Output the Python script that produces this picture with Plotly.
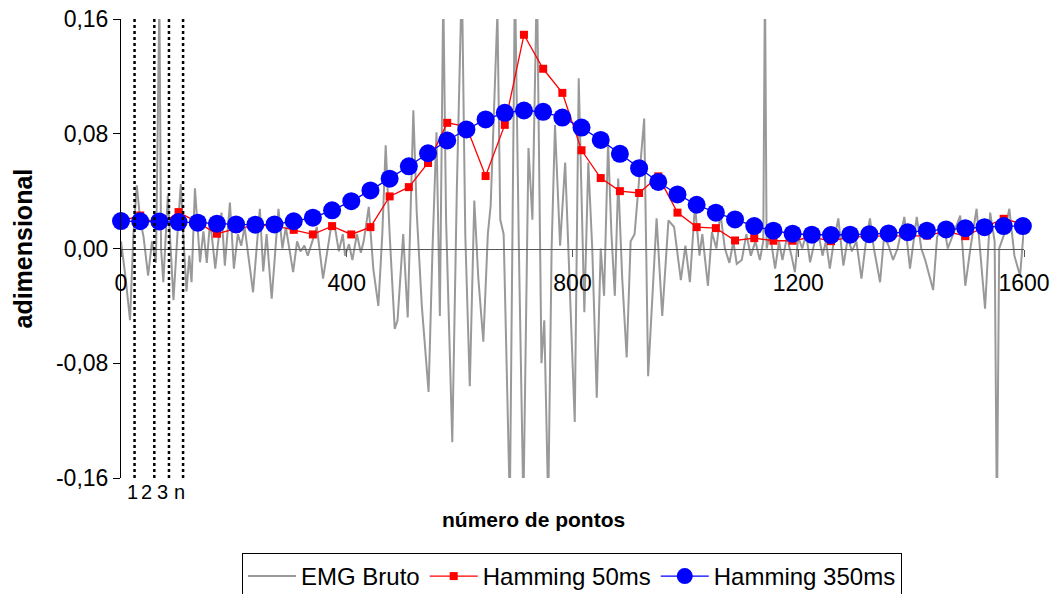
import plotly.graph_objects as go

# ---------------- data ----------------
# raw EMG trace, digitised vertices (sample index, value)
emg_x = [0, 8, 16, 22, 28, 34, 40, 48, 55, 62, 68, 71, 75, 83, 88, 93, 100, 106, 111, 116,
         121, 125, 131, 136, 140, 146, 152, 158, 167, 178, 184, 193, 200, 207, 213, 219, 234, 246, 252, 258,
         267, 279, 286, 292, 305, 312, 318, 325, 331, 339, 347, 358, 366, 373, 379, 386, 393,
         397, 404, 410, 418, 425, 430, 439, 447, 456, 463, 469, 476, 485, 490, 500, 508, 518, 524, 533,
         545, 552, 559, 565, 571, 576, 587, 595, 604, 610, 618, 626, 633, 642, 650, 655, 667, 672, 678,
         689, 698, 705, 713, 722, 729, 737, 745, 750, 757, 763, 769, 778, 787, 795, 804, 811, 821, 828,
         835, 843, 850, 856, 863, 869, 875, 881, 888, 896, 903, 910, 920, 927, 934, 942, 949, 959, 970,
         980, 992, 1000, 1008, 1017, 1025, 1030, 1040, 1047, 1055, 1062, 1070, 1078, 1085, 1091, 1100,
         1108, 1116, 1124, 1132, 1138, 1141, 1144, 1150, 1159, 1166, 1172, 1180, 1188, 1194, 1200, 1207,
         1214, 1221, 1228, 1235, 1243, 1249, 1256, 1263, 1271, 1280, 1288, 1295, 1303, 1312, 1320, 1327,
         1334, 1345, 1352, 1360, 1368, 1376, 1388, 1398, 1410, 1418, 1425, 1439, 1446, 1457, 1465, 1474,
         1487, 1496, 1505, 1516, 1531, 1540, 1548, 1552, 1556, 1565, 1574, 1583, 1593, 1600]
emg_y = [0.005, -0.020, -0.050, 0.010, 0.044, 0.020, 0.008, -0.019, 0.005, -0.010, 0.175, 0.000, -0.0235, 0.037, 0.000, -0.036, 0.010, 0.045, 0.005, -0.030,
         -0.005, -0.0235, 0.042, 0.010, -0.0096, 0.012, -0.010, 0.020, -0.014, 0.025, -0.012, 0.032, -0.014, 0.010, 0.002, 0.015, -0.0305, 0.0277, -0.016, 0.010,
         -0.035, 0.0277, 0.000, 0.015, -0.0165, 0.005, -0.002, 0.002, -0.005, 0.005, 0.015, -0.021, 0.000, 0.017, 0.015, -0.002, 0.010,
         -0.005, 0.003, -0.008, 0.010, -0.003, 0.005, 0.029, -0.014, -0.040, 0.010, 0.072, 0.010, -0.056, -0.050, 0.010, -0.048, 0.0964, 0.025, -0.040,
         -0.100, 0.000, 0.081, -0.047, 0.180, 0.020, -0.135, 0.040, 0.190, 0.010, -0.096, 0.0335, -0.020, -0.065, 0.010, 0.030, 0.165, 0.020, 0.010,
         -0.180, 0.190, 0.000, -0.180, 0.070, 0.020, 0.190, -0.080, -0.050, -0.180, 0.000, 0.086, 0.002, 0.060, -0.030, -0.121, 0.1186, -0.0445, 0.060,
         0.000, -0.104, 0.000, -0.033, 0.074, 0.010, -0.033, 0.0487, -0.020, -0.076, 0.005, 0.010, 0.060, 0.0906, -0.089, -0.030, 0.021, -0.047, 0.0196,
         0.015, -0.022, 0.002, -0.0235, 0.030, -0.005, 0.010, -0.026, 0.0114, 0.000, 0.025, 0.000, -0.010, 0.005, -0.0107, -0.008,
         0.010, -0.005, 0.005, -0.008, 0.005, 0.190, 0.000, 0.010, -0.014, 0.005, -0.008, 0.008, -0.005, -0.0165, 0.008, 0.000,
         0.010, -0.0096, 0.003, 0.012, -0.005, 0.005, -0.014, 0.005, 0.021, -0.012, 0.008, -0.002, 0.005, -0.021, 0.005, 0.021,
         0.000, -0.0235, 0.008, 0.002, -0.008, 0.000, 0.022, -0.014, 0.022, 0.000, -0.008, -0.029, 0.008, 0.018, 0.000, 0.010,
         0.023, -0.026, 0.000, 0.0277, -0.042, 0.025, 0.005, -0.190, 0.000, 0.010, 0.0277, -0.005, -0.019, 0.015]

# Hamming-window envelopes (window centres, sample index)
ham_x = [0, 34, 68, 102, 136, 170, 204, 238, 272, 306, 340, 374, 408, 442, 476, 510,
         544, 578, 612, 646, 680, 714, 748, 782, 816, 850, 884, 918, 952, 986, 1020, 1054,
         1088, 1122, 1156, 1190, 1224, 1258, 1292, 1326, 1360, 1394, 1428, 1462, 1496, 1530, 1564, 1598]
ham50 = [0.019, 0.023, 0.016, 0.0254, 0.018, 0.0103, 0.0138, 0.016, 0.016, 0.013, 0.0098, 0.0156,
         0.0098, 0.0149, 0.0363, 0.0428, 0.0596, 0.0876, 0.085, 0.0505, 0.0862, 0.149, 0.1253, 0.1085,
         0.0685, 0.0491, 0.040, 0.0387, 0.0503, 0.025, 0.0149, 0.0142, 0.0056, 0.0072, 0.0054, 0.0054,
         0.008, 0.0051, 0.008, 0.0085, 0.009, 0.0086, 0.009, 0.012, 0.0086, 0.015, 0.0207, 0.017]
ham350 = [0.0191, 0.019, 0.0189, 0.0184, 0.018, 0.0173, 0.0168, 0.0166, 0.0168, 0.019, 0.0215, 0.0266,
          0.033, 0.0405, 0.0487, 0.0573, 0.0664, 0.0753, 0.083, 0.090, 0.0946, 0.0962, 0.0953, 0.0913,
          0.0843, 0.0757, 0.066, 0.056, 0.0464, 0.0377, 0.0305, 0.025, 0.0203, 0.0156, 0.0124, 0.0103,
          0.0096, 0.0094, 0.0096, 0.010, 0.0105, 0.0114, 0.0124, 0.0133, 0.0142, 0.0149, 0.0156, 0.0156]

# window markers (dotted lines) and their labels
win_lines_x = [24, 59, 85, 110]
win_labels = ["1", "2", "3", "n"]
win_labels_x = [21, 46, 74, 104]

x_ticks = [0, 400, 800, 1200, 1600]
y_ticks = [0.16, 0.08, 0.0, -0.08, -0.16]
y_ticktext = ["0,16", "0,08", "0,00", "-0,08", "-0,16"]

FONT = "Liberation Sans, Arial, sans-serif"

fig = go.Figure()
fig.add_trace(go.Scatter(x=emg_x, y=emg_y, mode="lines", name="EMG Bruto",
                         line=dict(color="#999999", width=2)))
fig.add_trace(go.Scatter(x=ham_x, y=ham50, mode="lines+markers", name="Hamming 50ms",
                         line=dict(color="#ff0000", width=1.3),
                         marker=dict(symbol="square", size=8, color="#ff0000"),
                         cliponaxis=False))
fig.add_trace(go.Scatter(x=ham_x, y=ham350, mode="lines+markers", name="Hamming 350ms",
                         line=dict(color="#0000ff", width=1.3),
                         marker=dict(symbol="circle", size=18, color="#0000ff"),
                         cliponaxis=False))

for xv in win_lines_x:
    fig.add_shape(type="line", xref="x", yref="paper", x0=xv, x1=xv, y0=0, y1=1,
                  line=dict(color="black", width=2.5, dash="dot"), layer="above")

for t, xv in zip(win_labels, win_labels_x):
    fig.add_annotation(x=xv, xref="x", y=0, yref="paper", yanchor="top", yshift=-1,
                       text=t, showarrow=False, font=dict(family=FONT, size=20, color="black"))

fig.add_annotation(x=0.5, xref="paper", xanchor="center", xshift=-39,
                   y=0, yref="paper", yanchor="middle", yshift=-41,
                   text="<b>número de pontos</b>", showarrow=False,
                   font=dict(family=FONT, size=21, color="black"))
fig.add_annotation(x=0, xref="paper", xanchor="center", xshift=-99,
                   y=0.5, yref="paper", yanchor="middle", textangle=-90,
                   text="<b>adimensional</b>", showarrow=False,
                   font=dict(family=FONT, size=25, color="black"))

fig.update_layout(
    width=1054, height=594,
    margin=dict(l=121, r=30, t=19, b=116, autoexpand=False),
    paper_bgcolor="white", plot_bgcolor="white",
    font=dict(family=FONT, size=23, color="black"),
    showlegend=True,
    legend=dict(orientation="h", xref="container", yref="container",
                x=572 / 1054, xanchor="center", y=1 - 553 / 594, yanchor="top",
                bordercolor="black", borderwidth=1, bgcolor="white",
                itemwidth=48,
                font=dict(family=FONT, size=24, color="black")),
    xaxis=dict(range=[0, 1600], anchor="free", position=0.5, automargin=False,
               showline=True, linecolor="#555555", linewidth=1,
               ticks="outside", ticklen=7, tickcolor="#555555",
               tickvals=x_ticks, showgrid=False, zeroline=False,
               ticklabelstandoff=7,
               tickfont=dict(family=FONT, size=23, color="black")),
    yaxis=dict(range=[-0.16, 0.16], tickvals=y_ticks, ticktext=y_ticktext, automargin=False,
               showline=True, linecolor="black", linewidth=1,
               ticks="outside", ticklen=7, tickcolor="black",
               showgrid=False, zeroline=False,
               tickfont=dict(family=FONT, size=23, color="black")),
)

fig.write_html("out.html")
